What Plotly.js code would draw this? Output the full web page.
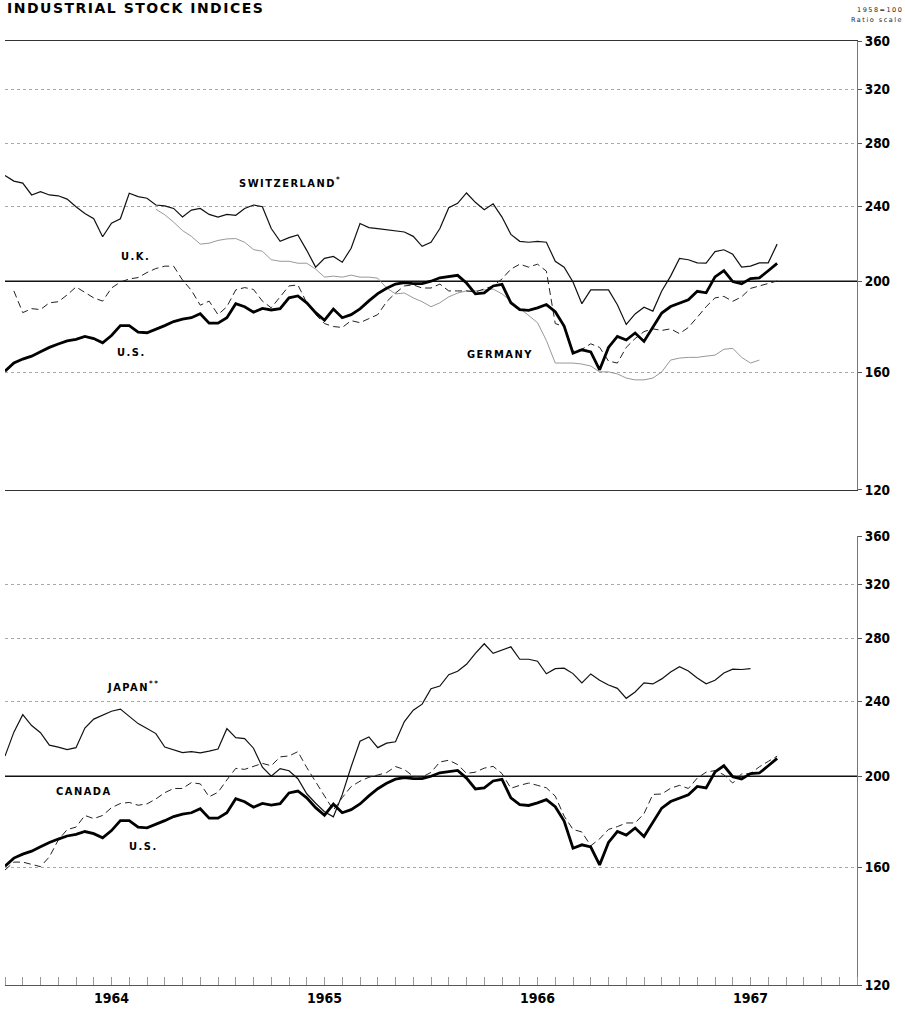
<!DOCTYPE html>
<html>
<head>
<meta charset="utf-8">
<script src="https://cdn.plot.ly/plotly-3.0.1.min.js"></script>
<style>
  html, body { margin: 0; padding: 0; background: #fff; }
  #chart { width: 905px; height: 1016px; }
  .annotation-text { letter-spacing: 1.5px; }
</style>
</head>
<body>
<div id="chart"></div>
<script>
// ---- Time grid: semi-monthly observations starting January 1964 ----
const YEAR0 = 1964;
const STEPS_PER_YEAR = 24;

// ---- Axis / tick labels ----
const yearTickVals = [1964.5, 1965.5, 1966.5, 1967.5];
const yearTickText = ['1964', '1965', '1966', '1967'];
const yTickVals = [120, 160, 200, 240, 280, 320, 360];
const BASE_LEVEL = 200;

// ---- Top panel series (1958 = 100), index into the semi-monthly grid ----
const swissStart = 0;
const swiss = [259, 255.5, 254.3, 247, 249, 247, 246.5, 244.5, 240, 236,
  233, 223, 230.5, 233, 248, 246, 245, 241, 240.5, 239,
  234, 238, 239, 235.5, 234, 235.5, 235, 239, 241, 240,
  227.5, 220.5, 222.5, 224, 215.7, 207, 211.5, 212.5, 209.5, 216.8,
  230.3, 228, 227.5, 226.8, 226.2, 225.6, 223.2, 217.8, 220, 227.5,
  239.4, 242, 248.2, 242.6, 238.2, 241.7, 234, 224.3, 220.5, 220,
  220.5, 220, 210, 207, 199.6, 189.3, 195.8, 195.8, 195.8, 188.8,
  179.9, 184.6, 187.7, 185.9, 195.3, 202.5, 211.5, 210.8, 209.2, 209.1,
  215, 216, 213.6, 207, 207.5, 209.2, 209.2, 219];

const ukStart = 1;
const uk = [195.3, 185.2, 187, 186.6, 189.7, 190.2, 193.4, 197.2, 194.6, 192,
  190.5, 196.7, 199.6, 201.1, 201.8, 204.3, 206.3, 207.5, 207.5, 200.6,
  195.6, 188.6, 190.5, 184.3, 187.9, 195.8, 196.9, 196, 190.5, 187.4,
  192.5, 197.7, 198.2, 189.7, 184.3, 180.3, 179, 178.6, 181.6, 180.7,
  182.5, 184.3, 190.2, 194.3, 197.7, 198.2, 196.7, 196.7, 198.6, 195.3,
  195.3, 195.3, 194.8, 196.2, 197.7, 201.1, 206, 208.5, 207, 208.5,
  205, 180.3, 179, 168.5, 169.3, 171.6, 170.1, 164.5, 163.7, 170.1,
  173.8, 176.8, 178, 177.3, 178, 175.9, 178.6, 183.1, 187.9, 192,
  192.7, 190.4, 192.5, 196.5, 197.7, 199.1, 200.1];

const germanyStart = 17;
const germany = [238.5, 235.3, 231.1, 226.4, 223.2, 219, 219.5, 221, 221.8, 222,
  220, 216.1, 215.2, 210.8, 210, 210, 209, 209, 206, 202,
  202.5, 202, 203, 202, 202, 201.5, 196.7, 193.9, 194.3, 192,
  190.2, 187.9, 189.7, 192.5, 194.3, 195.3, 195.3, 195.8, 196.2, 193.9,
  190.5, 187.4, 183.8, 180.7, 173, 163.7, 163.7, 163.7, 163.3, 162.5,
  160.2, 160.2, 159.4, 157.8, 157.1, 157.1, 157.8, 160.2, 164.9, 165.7,
  166, 166, 166.5, 166.9, 169.3, 169.7, 166, 163.7, 164.9];

// U.S. appears in both panels
const usStart = 0;
const us = [160.5, 163.7, 165.3, 166.5, 168.3, 170.1, 171.5, 172.8, 173.5, 174.7,
  173.8, 172, 175.1, 179.4, 179.4, 176.6, 176.3, 177.7, 179.4, 181.2,
  182.3, 182.9, 184.7, 180.5, 180.5, 182.9, 189.3, 187.9, 185.4, 187.1,
  186.4, 187, 192, 192.9, 189.7, 185.2, 181.8, 186.8, 182.9, 184.3,
  186.9, 190.6, 194, 196.6, 198.6, 199.3, 198.8, 198.8, 200, 201.7,
  202.4, 202.9, 199.1, 193.9, 194.4, 197.7, 198.5, 189.7, 186.6, 186.2,
  187.4, 188.9, 185.6, 179.2, 167.7, 169.1, 168.2, 161, 170.1, 174.7,
  173.2, 176.2, 172.6, 178.6, 185, 188, 189.6, 191.1, 195.1, 194.4,
  202.1, 205.2, 199.8, 198.7, 201.3, 201.6, 205.2, 208.9];

// ---- Bottom panel series ----
const japanStart = 0;
const japan = [210.1, 222.8, 232.5, 226.4, 222.5, 215.8, 214.8, 213.5, 214.5, 225,
  230, 232.3, 234.5, 235.7, 231.4, 227.5, 224.8, 222, 214.8, 213.2,
  211.9, 212.4, 211.8, 212.7, 213.8, 224.7, 219.8, 219.3, 214.2, 204.5,
  200, 203.8, 202.7, 198.8, 191.6, 187.2, 183.4, 181.1, 191.2, 204.7,
  217.9, 220.2, 214.5, 216.9, 217.6, 228.6, 235.1, 238.6, 247.8, 249.4,
  256.4, 258.6, 263, 270.2, 276.6, 270.2, 272.2, 274.5, 266.3, 266.3,
  265, 257, 260.2, 260.5, 257.1, 251.3, 256.9, 252.9, 250, 248,
  242, 245.8, 251.3, 250.7, 253.8, 258.1, 261.5, 258.7, 254.3, 250.8,
  252.9, 257.5, 259.9, 259.7, 260.2];

const canadaStart = 0;
const canada = [159, 162.1, 162.1, 161.3, 160.3, 164.2, 171.1, 175.5, 176.6, 181.7,
  180.3, 181.7, 185.2, 187.1, 187.6, 186.3, 186.9, 189.2, 192.1, 194.1,
  194.1, 196.9, 196.3, 190.2, 192.3, 198.2, 203.9, 203.4, 204.8, 206.4,
  205.2, 209.7, 210.2, 212.4, 204.3, 197.2, 190.5, 184.1, 189.8, 195,
  197.6, 199.5, 200.6, 201.8, 204.8, 203.3, 200, 199.6, 201.9, 207.1,
  208, 205.8, 201.4, 202, 204, 204.9, 201.3, 194.2, 195.6, 196.7,
  195.6, 194.4, 190.5, 181.4, 175.6, 174.5, 168.7, 171.6, 175.6, 176.8,
  178.4, 178.4, 182.5, 191.3, 191.5, 194.2, 195.6, 194.1, 199.1, 202,
  202.8, 200.7, 196.7, 201.2, 201.3, 204.7, 207.4, 210.1];

// ---- helpers ----
function grid(start, n) {
  return Array.from({length: n}, (_, k) => YEAR0 + (start + k) / STEPS_PER_YEAR);
}
const X_RANGE = [1964, 1968];

function line(name, start, vals, xa, ya, style) {
  return {
    type: 'scatter', mode: 'lines', name: name,
    x: grid(start, vals.length), y: vals,
    xaxis: xa, yaxis: ya, hoverinfo: 'skip',
    line: Object.assign({shape: 'linear'}, style)
  };
}
function baseLine(xa, ya) {
  return {
    type: 'scatter', mode: 'lines', x: X_RANGE, y: [BASE_LEVEL, BASE_LEVEL],
    xaxis: xa, yaxis: ya, hoverinfo: 'skip',
    line: {color: '#111', width: 1.6}
  };
}

const DASH = '7px,4px';
const traces = [
  baseLine('x', 'y'),
  line('Germany', germanyStart, germany, 'x', 'y', {color: '#8c8c8c', width: 0.9}),
  line('U.K.', ukStart, uk, 'x', 'y', {color: '#222', width: 1, dash: DASH}),
  line('Switzerland', swissStart, swiss, 'x', 'y', {color: '#111', width: 1.2}),
  line('U.S.', usStart, us, 'x', 'y', {color: '#000', width: 2.8}),

  baseLine('x2', 'y2'),
  line('Japan', japanStart, japan, 'x2', 'y2', {color: '#111', width: 1.2}),
  line('Canada', canadaStart, canada, 'x2', 'y2', {color: '#222', width: 1, dash: DASH}),
  line('U.S.', usStart, us, 'x2', 'y2', {color: '#000', width: 2.8})
];

const COND = 'DejaVu Sans Condensed, Liberation Sans Narrow, sans-serif';
const LABEL_FONT = {family: COND, size: 11, color: '#000', weight: 700};
const TICK_FONT = {family: COND, size: 13.5, color: '#000', weight: 700};

const yRange = [Math.log10(120), Math.log10(360)];
function yAxis(domain) {
  return {
    domain: domain, type: 'log', range: yRange, side: 'right',
    tickmode: 'array', tickvals: yTickVals, ticktext: yTickVals.map(String),
    tickfont: TICK_FONT, ticks: 'outside', ticklen: 4, tickcolor: '#555',
    showgrid: true, gridcolor: '#a8a8a8', gridwidth: 1, griddash: 'dot',
    showline: true, linecolor: '#777', linewidth: 1, mirror: false,
    zeroline: false, fixedrange: true
  };
}

function label(text, x, y, size) {
  return {xref: 'paper', yref: 'paper', x: x, y: y, text: text, showarrow: false,
    xanchor: 'center', yanchor: 'middle',
    font: Object.assign({}, LABEL_FONT, size ? {size: size} : {})};
}

const layout = {
  width: 905, height: 1016,
  margin: {l: 5, r: 48, t: 41, b: 31, pad: 0},
  paper_bgcolor: '#fff', plot_bgcolor: '#fff',
  showlegend: false,
  xaxis: {
    domain: [0, 1], anchor: 'y', range: X_RANGE, showticklabels: false,
    ticks: '', showgrid: false, zeroline: false,
    showline: true, mirror: true, linecolor: '#333', linewidth: 1, fixedrange: true
  },
  yaxis: yAxis([0.5244, 1]),
  xaxis2: {
    domain: [0, 1], anchor: 'y2', range: X_RANGE,
    tickmode: 'array', tickvals: yearTickVals, ticktext: yearTickText,
    tickfont: Object.assign({}, TICK_FONT, {size: 14}), ticks: '', ticklen: 0,
    minor: {tick0: 1964, dtick: 1 / 12, ticks: 'inside', ticklen: 8, tickcolor: '#999', showgrid: false},
    showgrid: false, zeroline: false,
    showline: true, mirror: false, linecolor: '#555', linewidth: 1, fixedrange: true
  },
  yaxis2: yAxis([0, 0.4756]),
  annotations: [
    {xref: 'paper', yref: 'paper', x: 0, y: 1.0350, xanchor: 'left', yanchor: 'middle',
     text: 'INDUSTRIAL STOCK INDICES', showarrow: false,
     font: {family: 'DejaVu Sans, sans-serif', size: 14, color: '#000', weight: 700}},
    {xref: 'paper', yref: 'paper', x: 1.0563, y: 1.0328, xanchor: 'right', yanchor: 'middle',
     text: '1958=100', showarrow: false, font: {family: 'DejaVu Sans, sans-serif', size: 6.5, color: '#222'}},
    {xref: 'paper', yref: 'paper', x: 1.0563, y: 1.0222, xanchor: 'right', yanchor: 'middle',
     text: 'Ratio scale', showarrow: false, font: {family: 'DejaVu Sans, sans-serif', size: 6.5, color: '#222'}},
    label('SWITZERLAND<sup>*</sup>', 0.3345, 0.8506),
    label('U.K.', 0.1526, 0.7722),
    label('U.S.', 0.1479, 0.6695),
    label('GERMANY', 0.581, 0.6674),
    label('JAPAN<sup>**</sup>', 0.1502, 0.3157),
    label('CANADA', 0.0927, 0.2055),
    label('U.S.', 0.162, 0.1462)
  ]
};

Plotly.newPlot('chart', traces, layout, {staticPlot: true, displayModeBar: false});
</script>
</body>
</html>
